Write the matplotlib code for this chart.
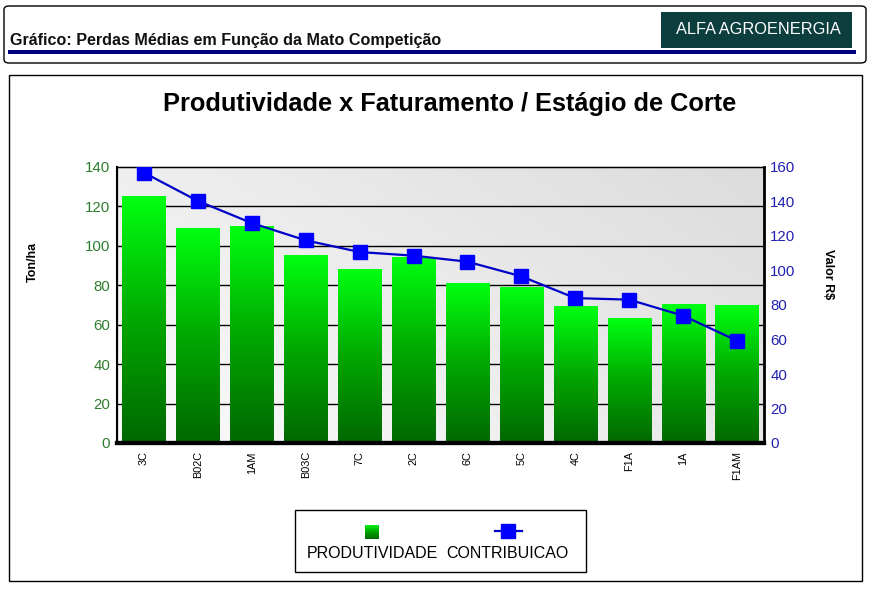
import numpy as np
import matplotlib
matplotlib.use("Agg")
import matplotlib.pyplot as plt
from matplotlib.patches import Rectangle, FancyBboxPatch
from matplotlib.lines import Line2D
from matplotlib.colors import LinearSegmentedColormap

plt.rcParams["font.family"] = ["Liberation Sans", "DejaVu Sans"]

# dados
estagios = ["3C", "B02C", "1AM", "B03C", "7C", "2C", "6C", "5C", "4C", "F1A", "1A", "F1AM"]
produtividade = [124.8, 108.6, 110.0, 94.9, 87.8, 93.9, 81.1, 79.1, 69.0, 62.9, 70.5, 70.0]
contribuicao = [156.7, 140.3, 127.5, 117.5, 110.7, 108.6, 105.1, 96.6, 84.0, 83.1, 73.8, 59.3]

W, H = 871, 593


def fx(px):
    return px / W


def fy(py):
    return 1 - py / H


fig = plt.figure(figsize=(W / 100, H / 100), dpi=100)
fig.patch.set_facecolor("white")

# cabecalho
fig.patches.append(FancyBboxPatch((fx(4), fy(63)), fx(862), fy(6) - fy(63),
                                  boxstyle="round,pad=0,rounding_size=0.006",
                                  transform=fig.transFigure, fc="white", ec="black", lw=1,
                                  zorder=-5))
fig.patches.append(Rectangle((fx(8), fy(54)), fx(848), fy(50) - fy(54),
                             transform=fig.transFigure, fc="#000080", ec="none", zorder=-4))
fig.patches.append(Rectangle((fx(661), fy(48)), fx(191), fy(12) - fy(48),
                             transform=fig.transFigure, fc="#0d3e3e", ec="none", zorder=-4))
fig.text(fx(758), fy(30), "ALFA AGROENERGIA", color="white", fontsize=11.8,
         ha="center", va="center")
fig.text(fx(10), fy(41), "Gráfico: Perdas Médias em Função da Mato Competição",
         fontsize=11.6, fontweight="bold", ha="left", va="center", color="#111111")

# caixa do grafico
fig.patches.append(Rectangle((fx(9), fy(581)), fx(853), fy(75) - fy(581),
                             transform=fig.transFigure, fc="white", ec="black", lw=1,
                             zorder=-5))
fig.text(fx(450), fy(104), "Produtividade x Faturamento / Estágio de Corte",
         fontsize=18.3, fontweight="bold", ha="center", va="center")

ax = fig.add_axes([fx(117), fy(443), fx(764) - fx(117), fy(167) - fy(443)])
x = np.arange(len(estagios))

# fundo em degrade
gx, gy = np.meshgrid(np.linspace(0, 1, 200), np.linspace(0, 1, 200))
bg = 0.6 * gx + 0.4 * gy
bg_cmap = LinearSegmentedColormap.from_list("bg", ["#fbfbfb", "#dcdcdc"])
ax.imshow(bg, extent=[-0.5, 11.5, 0, 140], origin="lower", aspect="auto",
          cmap=bg_cmap, zorder=0)

for v in range(20, 140, 20):
    ax.axhline(v, color="black", lw=1, zorder=1)

# barras em degrade
bar_cmap = LinearSegmentedColormap.from_list("bar", ["#006800", "#00a800", "#00ff10"])
grad = np.linspace(0, 1, 100).reshape(-1, 1)
bw = 0.8
for xi, v in zip(x, produtividade):
    ax.imshow(grad, extent=[xi - bw / 2, xi + bw / 2, 0, v], origin="lower",
              aspect="auto", cmap=bar_cmap, zorder=2)

ax.set_xlim(-0.5, 11.5)
ax.set_ylim(0, 140)
ax.set_yticks(range(0, 141, 20))
ax.set_xticks(x)
ax.set_xticklabels(estagios, rotation=90, fontsize=7.8)
ax.tick_params(axis="x", length=0, pad=6)
ax.tick_params(axis="y", colors="#2e7d2e", labelsize=10.8, length=0, pad=5,
               labelcolor="#2e7d2e")
for s in ["left", "right", "top"]:
    ax.spines[s].set_color("black")
ax.spines["left"].set_linewidth(1.5)
ax.spines["bottom"].set_linewidth(3)
ax.spines["top"].set_linewidth(1)

ax2 = ax.twinx()
ax2.plot(x, contribuicao, color="#0000c8", lw=1.6, marker="s", markersize=10.5,
         markerfacecolor="#0000ff", markeredgecolor="#0000ff", zorder=5)
ax2.set_ylim(0, 160)
ax2.set_yticks(range(0, 161, 20))
ax2.tick_params(axis="y", colors="#2020b0", labelsize=10.8, length=0, pad=4.5,
                labelcolor="#2020b0")
ax2.spines["right"].set_linewidth(2)
ax2.spines["right"].set_color("black")
ax2.spines["bottom"].set_linewidth(3)

fig.text(fx(33), fy(262), "Ton/ha", fontsize=9, fontweight="bold", rotation=90,
         ha="center", va="center")
fig.text(fx(828), fy(274), "Valor R$", fontsize=9, fontweight="bold", rotation=-90,
         ha="center", va="center")

# legenda manual
fig.patches.append(Rectangle((fx(295), fy(572)), fx(291), fy(510) - fy(572),
                             transform=fig.transFigure, fc="white", ec="black", lw=1,
                             zorder=-4))
lax = fig.add_axes([fx(365), fy(539), fx(14), fy(525) - fy(539)])
lax.imshow(grad, extent=[0, 1, 0, 1], origin="lower", aspect="auto", cmap=bar_cmap)
lax.axis("off")
fig.lines.append(Line2D([fx(495), fx(522)], [fy(531), fy(531)], transform=fig.transFigure,
                        color="#0000c8", lw=1.6, marker=None))
fig.lines.append(Line2D([fx(508)], [fy(531)], transform=fig.transFigure, color="#0000ff",
                        marker="s", markersize=10.5, linestyle="None"))
fig.text(fx(372), fy(553), "PRODUTIVIDADE", fontsize=11.5, ha="center", va="center")
fig.text(fx(507), fy(553), "CONTRIBUICAO", fontsize=11.5, ha="center", va="center")

fig.savefig("out.png", dpi=100)
